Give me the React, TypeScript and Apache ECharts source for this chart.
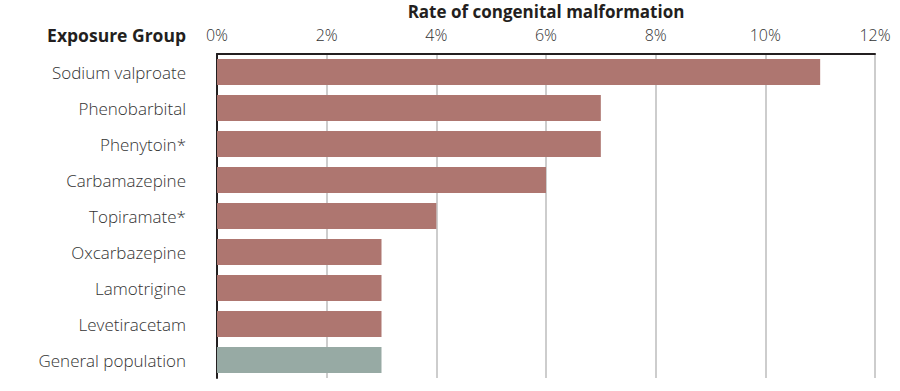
import React, { useEffect, useRef } from "react";
import * as echarts from "echarts";

const categories = [
  "Sodium valproate",
  "Phenobarbital",
  "Phenytoin*",
  "Carbamazepine",
  "Topiramate*",
  "Oxcarbazepine",
  "Lamotrigine",
  "Levetiracetam",
  "General population",
];
const rates = [11, 7, 7, 6, 4, 3, 3, 3, 3];
const barColors = [
  "#ae7670", "#ae7670", "#ae7670", "#ae7670", "#ae7670",
  "#ae7670", "#ae7670", "#ae7670", "#97aaa4",
];
const axisTitle = "Rate of congenital malformation";
const yTitle = "Exposure Group";

export default function App() {
  const ref = useRef<HTMLDivElement>(null);
  useEffect(() => {
    const chart = echarts.init(ref.current!, null, { renderer: "svg" });
    const font = "'Open Sans', 'Noto Sans', sans-serif";
    chart.setOption({
      animation: false,
      grid: { left: 217, right: 25, top: 54, bottom: 13, containLabel: false, outerBoundsMode: "none" },
      xAxis: {
        type: "value",
        position: "top",
        min: 0,
        max: 12,
        interval: 2,
        name: axisTitle,
        nameLocation: "middle",
        nameGap: 34,
        nameTextStyle: { fontFamily: font, fontWeight: "bold", fontSize: 17, color: "#231f20" },
        axisLine: { show: true, lineStyle: { color: "#231f20", width: 2 } },
        axisTick: { show: false },
        axisLabel: {
          formatter: "{value}%",
          fontFamily: font,
          fontSize: 16,
          fontWeight: 300,
          color: "#333333",
          margin: 11,
        },
        splitLine: { show: true, lineStyle: { color: "#bdbdbd", width: 1.5 } },
      },
      yAxis: {
        type: "category",
        data: categories,
        inverse: true,
        axisLine: { show: true, lineStyle: { color: "#231f20", width: 2 } },
        axisTick: { show: false },
        axisLabel: {
          fontFamily: font,
          fontSize: 17,
          fontWeight: 300,
          color: "#333333",
          margin: 31,
        },
      },
      graphic: [
        {
          type: "text",
          right: 900 - 186,
          top: 26,
          style: {
            text: yTitle,
            font: `bold 17.5px ${font}`,
            fill: "#231f20",
            textAlign: "right",
          },
        },
      ],
      series: [
        {
          type: "bar",
          data: rates.map((v, i) => ({ value: v, itemStyle: { color: barColors[i] } })),
          barCategoryGap: "28%",
        },
      ],
    });
    return () => chart.dispose();
  }, []);
  return <div ref={ref} style={{ width: 900, height: 391, position: "absolute", left: 0, top: 0 }} />;
}
